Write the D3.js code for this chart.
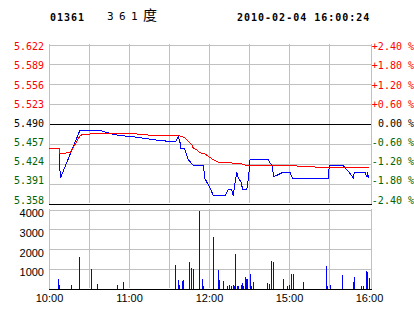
<!DOCTYPE html>
<html>
<head>
<meta charset="utf-8">
<script src="https://cdn.jsdelivr.net/npm/d3@7"></script>
<style>
body { margin: 0; background: #fff; }
svg { display: block; }
</style>
</head>
<body>
<div id="chart"></div>
<script>
/* global d3 */
// header
var stockCode = "01361",
	stockName = ["３", "６", "１", "度"],
	stockTime = "2010-02-04 16:00:24";

// axes
var prevClose = 5.49;
var priceTicks = [5.622, 5.589, 5.556, 5.523, 5.490, 5.457, 5.424, 5.391, 5.358];
var pctLabels = ["+2.40 %", "+1.80 %", "+1.20 %", "+0.60 %", "0.00 %", "-0.60 %", "-1.20 %", "-1.80 %", "-2.40 %"];
var timeTicks = [0, 60, 120, 180, 240];
var timeLabels = ["10:00", "11:00", "12:00", "15:00", "16:00"];
var volTicks = [1000, 2000, 3000, 4000];

// price line (minutes from 10:00, trading minutes only)
var priceMin = [0, 7.7, 8, 8.5, 23.3, 37, 40, 45, 50, 57, 66, 72, 85, 95, 97, 98.3, 98.5, 101.5, 104.5, 108.2, 115.7, 117, 120.8, 123.2, 132, 134.5, 137, 138.2, 139.5, 140.8, 142, 144.5, 145, 148.3, 149.5, 150.8, 164.5, 165.8, 167.8, 168.2, 172, 175.7, 180.8, 182.5, 209.5, 210.2, 220.7, 223.3, 225.8, 228.2, 229, 237, 238.5, 239, 239.5, 240];
var priceVal = [5.45, 5.45, 5.426, 5.40, 5.48, 5.48, 5.478, 5.475, 5.472, 5.470, 5.468, 5.466, 5.462, 5.461, 5.469, 5.459, 5.450, 5.450, 5.431, 5.421, 5.421, 5.399, 5.384, 5.371, 5.371, 5.381, 5.381, 5.371, 5.392, 5.410, 5.400, 5.392, 5.381, 5.381, 5.398, 5.431, 5.431, 5.425, 5.420, 5.402, 5.406, 5.410, 5.410, 5.400, 5.400, 5.421, 5.421, 5.414, 5.408, 5.400, 5.410, 5.410, 5.402, 5.410, 5.400, 5.406];

// average price line
var avgMin = [0, 7.7, 8, 12.5, 12.8, 15.8, 23.3, 24.5, 29.5, 30.8, 65.8, 66.5, 84.5, 97, 99.5, 102, 104.5, 107, 108.2, 110.8, 113.2, 117, 119.5, 123.2, 127, 128.2, 137, 138.2, 144.5, 147, 149.5, 180.8, 199.5, 200, 240];
var avgVal = [5.450, 5.450, 5.441, 5.441, 5.442, 5.442, 5.4706, 5.4718, 5.4723, 5.4734, 5.4734, 5.4723, 5.471, 5.471, 5.4694, 5.4668, 5.4611, 5.4557, 5.450, 5.4474, 5.4424, 5.4403, 5.4363, 5.4308, 5.4263, 5.4253, 5.4253, 5.4242, 5.4237, 5.422, 5.4209, 5.4209, 5.4187, 5.417, 5.417];

// volume
var volMin = [7, 8, 17, 23, 32, 36, 51, 56, 95, 97, 98, 100, 101, 105, 107, 108, 113, 115, 116, 123, 127, 128, 131, 134, 135, 137, 138, 139, 140, 141, 142, 144, 145, 146, 147, 148, 149, 151, 152, 153, 164, 165, 167, 168, 176, 179, 180, 182, 183, 191, 208, 209, 211, 220, 228, 229, 234, 236, 238, 239, 240];
var volVal = [470, 170, 170, 1590, 980, 220, 170, 320, 1180, 420, 170, 370, 420, 1330, 1030, 980, 3920, 470, 120, 2600, 930, 420, 370, 120, 170, 120, 170, 120, 1740, 120, 120, 170, 270, 120, 570, 470, 470, 730, 120, 320, 270, 220, 1390, 1330, 470, 120, 170, 730, 730, 320, 1130, 120, 170, 680, 320, 570, 120, 120, 880, 830, 520];

var W = 414, H = 314;
var left = 49, right = 371;
var mono = "'DejaVu Sans Mono', monospace";
var sans = "'Liberation Sans', Arial, sans-serif";
var grey = "#c0c0c0", green = "#006400";

var svg = d3.select("#chart").append("svg")
	.attr("width", W)
	.attr("height", H);

var x = d3.scaleLinear().domain([0, 240]).range([49, 369]);
var y = d3.scaleLinear().domain([5.358, 5.622]).range([203.5, 44.5]);
var yLab = d3.scaleLinear().domain([5.358, 5.622]).range([200, 46.7]);
var yv = d3.scaleLinear().domain([0, 4000]).range([288.5, 209.5]);

function px(v) { return Math.round(v) + 0.5; }
function tone(i) { return i < 4 ? "#ff0000" : (i === 4 ? "#000" : green); }

// header
svg.append("text")
	.attr("x", 50).attr("y", 20.5)
	.style("font", "bold 10px " + mono)
	.style("letter-spacing", "1px")
	.text(stockCode);
// full-width name, one 12px cell per character
var nameX = [107, 119, 131, 143];
svg.append("text")
	.attr("y", 19.5)
	.selectAll("tspan").data(stockName).enter().append("tspan")
	.attr("x", function(d, i){ return nameX[i]; })
	.style("font", function(d, i){ return i < 3 ? "11px " + mono : "14px 'Noto Sans CJK SC', sans-serif"; })
	.text(function(d, i){ return i < 3 ? String.fromCharCode(d.charCodeAt(0) - 0xFEE0) : d; });
svg.append("text")
	.attr("x", 237).attr("y", 20.5)
	.style("font", "bold 10px " + mono)
	.style("letter-spacing", "1px")
	.text(stockTime);

// grids
var g = svg.append("g").attr("shape-rendering", "crispEdges");
var halfHours = d3.range(30, 240, 30);

g.selectAll("line.vg").data(halfHours).enter().append("line")
	.attr("x1", function(d){ return px(x(d)); })
	.attr("x2", function(d){ return px(x(d)); })
	.attr("y1", 44).attr("y2", 203)
	.attr("stroke", grey);
g.selectAll("line.vg2").data(halfHours).enter().append("line")
	.attr("x1", function(d){ return px(x(d)); })
	.attr("x2", function(d){ return px(x(d)); })
	.attr("y1", 209).attr("y2", 288)
	.attr("stroke", grey);

g.selectAll("line.hg").data(priceTicks).enter().append("line")
	.attr("x1", left).attr("x2", right + 1)
	.attr("y1", function(d){ return px(y(d)); })
	.attr("y2", function(d){ return px(y(d)); })
	.attr("stroke", function(d){ return (d === prevClose || d === 5.358) ? "#000" : grey; });

g.selectAll("line.vhg").data([0].concat(volTicks)).enter().append("line")
	.attr("x1", left).attr("x2", right + 1)
	.attr("y1", function(d){ return px(yv(d)); })
	.attr("y2", function(d){ return px(yv(d)); })
	.attr("stroke", function(d){ return d === 0 ? "#000" : grey; });

// borders
[[44, 203], [209, 288]].forEach(function(r){
	g.append("line").attr("x1", left + 0.5).attr("x2", left + 0.5)
		.attr("y1", r[0]).attr("y2", r[1] + 1).attr("stroke", grey);
	g.append("line").attr("x1", right + 0.5).attr("x2", right + 0.5)
		.attr("y1", r[0]).attr("y2", r[1] + 1).attr("stroke", grey);
});

// price labels
svg.selectAll("text.pl").data(priceTicks).enter().append("text")
	.attr("x", 44).attr("y", function(d){ return yLab(d) + 3.5; })
	.attr("text-anchor", "end")
	.style("font", "10px " + mono)
	.attr("fill", function(d, i){ return tone(i); })
	.text(function(d){ return d.toFixed(3); });

svg.selectAll("text.pr").data(pctLabels).enter().append("text")
	.attr("x", 414).attr("y", function(d, i){ return yLab(priceTicks[i]) + 3.5; })
	.attr("text-anchor", "end")
	.style("font", "10px " + mono)
	.attr("fill", function(d, i){ return tone(i); })
	.text(function(d){ return d; });

// volume labels
svg.selectAll("text.vl").data(volTicks).enter().append("text")
	.attr("x", 44).attr("y", function(d){ return yv(d) + 7.5; })
	.attr("text-anchor", "end")
	.style("font", "11px " + sans)
	.text(function(d){ return d; });

// time labels
svg.selectAll("text.tl").data(timeTicks).enter().append("text")
	.attr("x", function(d){ return x(d) + 0.5; }).attr("y", 302)
	.attr("text-anchor", "middle")
	.style("font", "11px " + sans)
	.text(function(d, i){ return timeLabels[i]; });

// volume bars
svg.append("g").attr("shape-rendering", "crispEdges")
	.selectAll("rect").data(volMin).enter().append("rect")
	.attr("x", function(d){ return Math.floor(x(d)); })
	.attr("width", 1)
	.attr("y", function(d, i){ return yv(volVal[i]); })
	.attr("height", function(d, i){ return 288.5 - yv(volVal[i]); })
	.attr("fill", "#0000ff");

// lines
var line = d3.line()
	.x(function(d){ return x(d[0]); })
	.y(function(d){ return y(d[1]); });

svg.append("path")
	.datum(d3.zip(priceMin, priceVal))
	.attr("d", line)
	.attr("fill", "none")
	.attr("stroke", "#0000ff")
	.attr("shape-rendering", "crispEdges");

svg.append("path")
	.datum(d3.zip(avgMin, avgVal))
	.attr("d", line)
	.attr("fill", "none")
	.attr("stroke", "#ff0000")
	.attr("shape-rendering", "crispEdges");
</script>
</body>
</html>
